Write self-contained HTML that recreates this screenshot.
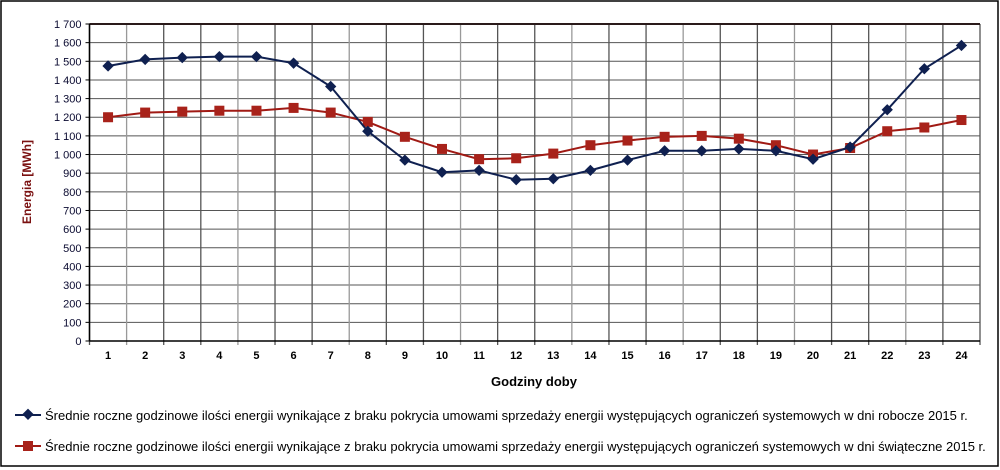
<!DOCTYPE html>
<html><head><meta charset="utf-8"><style>
body{margin:0;background:#fff;}
svg{display:block;font-family:"Liberation Sans",Arial,sans-serif;}
</style></head><body>
<svg id="c" width="1000" height="470" xmlns="http://www.w3.org/2000/svg">
<rect x="1" y="1" width="997" height="465" fill="#fff" stroke="#000" stroke-width="1.5"/>
<g id="grid"></g><g id="axes"></g><g id="series"></g>
<text x="31" y="182" transform="rotate(-90 31 182)" text-anchor="middle" font-size="12" font-weight="bold" fill="#7a1010">Energia [MWh]</text>
<text x="534" y="386" text-anchor="middle" font-size="13" font-weight="bold" fill="#000">Godziny doby</text>
<g>
<line x1="15" y1="415" x2="41" y2="415" stroke="#0f2050" stroke-width="2"/>
<rect x="23.5" y="410.5" width="8" height="8" fill="#0f2050" transform="rotate(45 28 415)"/>
<text x="45" y="420" font-size="13" fill="#000">Średnie roczne godzinowe ilości energii wynikające z braku pokrycia umowami sprzedaży energii występujących ograniczeń systemowych w dni robocze 2015 r.</text>
</g>
<g>
<line x1="15" y1="446" x2="41" y2="446" stroke="#a01a14" stroke-width="2"/>
<rect x="23" y="441" width="10" height="10" fill="#a8221a"/>
<text x="45" y="451" font-size="13" fill="#000">Średnie roczne godzinowe ilości energii wynikające z braku pokrycia umowami sprzedaży energii występujących ograniczeń systemowych w dni świąteczne 2015 r.</text>
</g>
</svg>
<script>
const hours=[1,2,3,4,5,6,7,8,9,10,11,12,13,14,15,16,17,18,19,20,21,22,23,24];
const workdays=[1475,1510,1520,1525,1525,1490,1365,1125,970,905,915,865,870,915,970,1020,1020,1030,1020,975,1040,1240,1460,1585];
const holidays=[1200,1225,1230,1235,1235,1250,1225,1175,1095,1030,975,980,1005,1050,1075,1095,1100,1085,1050,1000,1035,1125,1145,1185];
const yTicks=[0,100,200,300,400,500,600,700,800,900,1000,1100,1200,1300,1400,1500,1600,1700];
const yLabels=["0","100","200","300","400","500","600","700","800","900","1 000","1 100","1 200","1 300","1 400","1 500","1 600","1 700"];
const L=89.5,R=980,T=24,B=341,YMAX=1700;
const NS="http://www.w3.org/2000/svg";
const cw=(R-L)/hours.length;
function yS(v){return B-(v/YMAX)*(B-T);}
function xS(i){return L+cw*(i+0.5);}
function mk(tag,attrs,parent){const e=document.createElementNS(NS,tag);for(const k in attrs)e.setAttribute(k,attrs[k]);parent.appendChild(e);return e;}
const grid=document.getElementById('grid'),axes=document.getElementById('axes'),ser=document.getElementById('series');
yTicks.forEach((t,i)=>{
 const l=mk('line',{x1:L,x2:R,y1:yS(t),y2:yS(t),stroke:'#555','stroke-width':1},grid);
 
 
 const tk=mk('line',{x1:L-4,x2:L,y1:yS(t),y2:yS(t),stroke:'#000'},axes);
 
 
 const tx=mk('text',{x:L-8,y:yS(t)+4,'text-anchor':'end','font-size':11,fill:'#0a0a30'},axes);
 tx.textContent=yLabels[i];
 
 
});
for(let i=0;i<=hours.length;i++){
 const gx=L+cw*i;
 const l=mk('line',{x1:gx,x2:gx,y1:T,y2:B+4,stroke:i%3==1?'#999':'#555','stroke-width':1.3},grid);
 
 
}
hours.forEach((h,i)=>{
 const tx=mk('text',{x:xS(i),y:359,'text-anchor':'middle','font-size':11,'font-weight':'bold',fill:'#000'},axes);
 tx.textContent=h;
 
 
});
const topLine=mk('line',{x1:L,x2:R,y1:T,y2:T,stroke:'#2a1a1a','stroke-width':2},axes);


const botLine=mk('line',{x1:L,x2:R,y1:B,y2:B,stroke:'#000','stroke-width':1.5},axes);


const leftLine=mk('line',{x1:L,x2:L,y1:T,y2:B,stroke:'#000','stroke-width':1.5},axes);


function drawSeries(vals,color,fill,shape,name){
 const p=mk('polyline',{points:vals.map((v,i)=>xS(i)+','+yS(v)).join(' '),fill:'none',stroke:color,'stroke-width':2},ser);
 
 
 vals.forEach((v,i)=>{
  let m;
  if(shape==='d'){m=mk('rect',{x:xS(i)-4,y:yS(v)-4,width:8,height:8,fill:fill,transform:`rotate(45 ${xS(i)} ${yS(v)})`},ser);}
  else{m=mk('rect',{x:xS(i)-5,y:yS(v)-5,width:10,height:10,fill:fill},ser);}
  
  
 });
}
drawSeries(holidays,'#a01a14','#a8221a','s','holidays');
drawSeries(workdays,'#0f2050','#0f2050','d','workdays');
</script>
</body></html>
